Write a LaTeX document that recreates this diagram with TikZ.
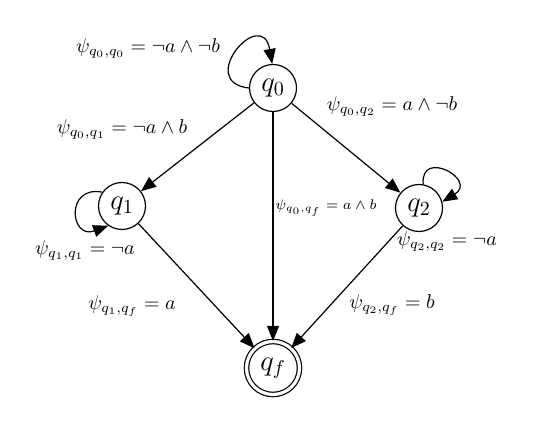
\documentclass[tikz,border=0pt]{standalone}
\usepackage{amsmath, amssymb}
\usetikzlibrary{arrows.meta,positioning}
\tikzset{
  statenode/.style={circle, draw, line width=0.6pt, minimum size=23.5pt,
                    inner sep=0pt, font=\Large},
  finalnode/.style={statenode, double, double distance=1.6pt,
                    minimum size=26.5pt},
  trans/.style={-{Triangle[length=7.5pt,width=6pt]}, line width=0.6pt},
  lbl/.style={inner sep=0pt},
  smalllbl/.style={inner sep=0pt, font=\scriptsize},
}

\begin{document}
\begin{tikzpicture}[x=0.5pt, y=-0.5pt]
  \useasboundingbox (0,0) rectangle (533,437);
  % States
  \node[statenode] (q0) at (273,88) {$q_0$};
  \node[statenode] (q1) at (122,206) {$q_1$};
  \node[statenode] (q2) at (419,208) {$q_2$};
  \node[finalnode] (qf) at (273,368) {$q_f$};
  % Transitions
  \draw[trans] (q0) -- (q1);
  \draw[trans] (q0) -- (q2);
  \draw[trans] (q0) -- (qf);
  \draw[trans] (q1) -- (qf);
  \draw[trans] (q2) -- (qf);
  % Self loops
  \draw[trans] (q0.180) .. controls (195,82) and (262,5) .. (q0.92);
  \draw[trans] (q1.145) .. controls (65,185) and (70,240) .. (q1.235);
  \draw[trans] (q2.80) .. controls (420,148) and (478,180) .. (q2.15);
  % Labels
  \node[lbl] (l00) at (148,48) {$\psi_{q_0,q_0} = \neg a \wedge \neg b$};
  \node[lbl] (l01) at (122,129) {$\psi_{q_0,q_1} = \neg a \wedge b$};
  \node[lbl] (l02) at (392,106) {$\psi_{q_0,q_2} = a \wedge \neg b$};
  \node[smalllbl] (l0f) at (326,208) {$\psi_{q_0,q_f} = a \wedge b$};
  \node[lbl] (l11) at (85,250) {$\psi_{q_1,q_1} = \neg a$};
  \node[lbl] (l22) at (447,241) {$\psi_{q_2,q_2} = \neg a$};
  \node[lbl] (l1f) at (132,306) {$\psi_{q_1,q_f} = a$};
  \node[lbl] (l2f) at (392,305) {$\psi_{q_2,q_f} = b$};
\end{tikzpicture}
\end{document}
